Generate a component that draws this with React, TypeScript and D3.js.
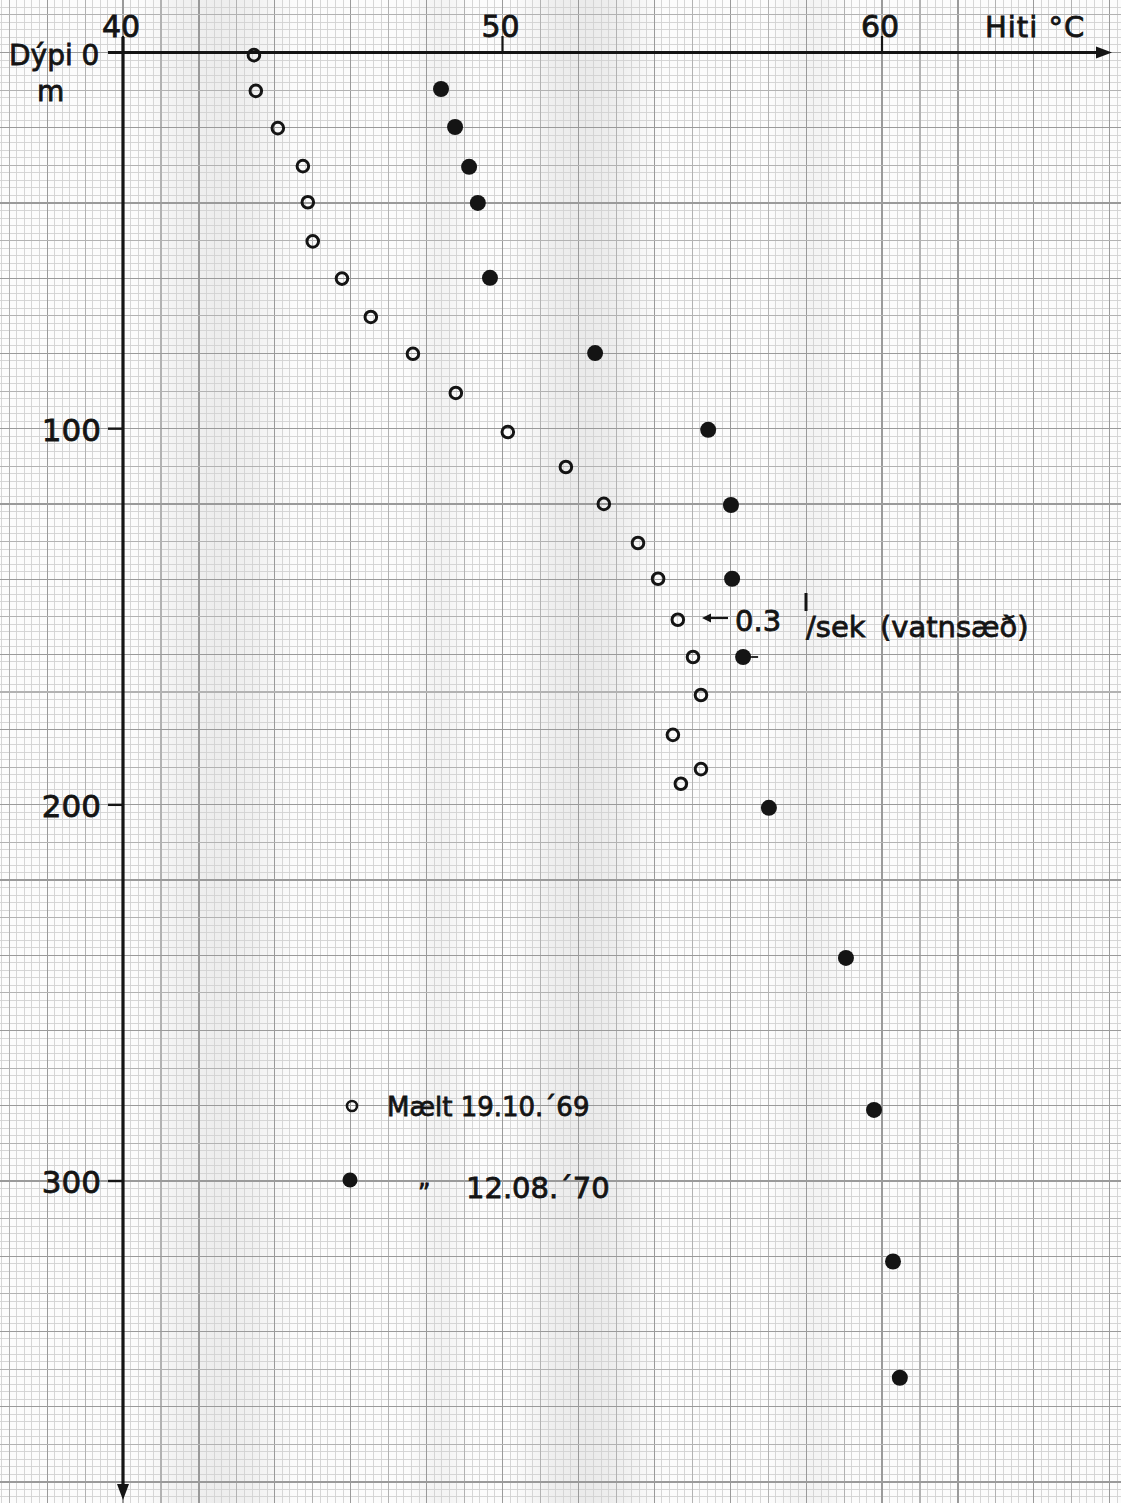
import React from "react";
import * as d3 from "d3";

// ---- data ----
const openTemp = [43.45, 43.5, 44.08, 44.74, 44.87, 45.0, 45.77, 46.53, 47.64, 48.77, 50.14, 51.67, 52.67, 53.57, 54.1, 54.62, 55.02, 55.23, 54.49, 55.23, 54.7];
const openDepth = [0.7, 10.2, 20.1, 30.2, 39.8, 50.2, 60.1, 70.3, 80.1, 90.5, 100.9, 110.2, 120.0, 130.4, 139.9, 150.8, 160.7, 170.8, 181.4, 190.5, 194.4];

const filledTemp = [48.38, 48.75, 49.12, 49.35, 49.67, 52.44, 55.42, 56.02, 56.05, 56.34, 57.02, 59.05, 59.79, 60.29, 60.47];
const filledDepth = [9.7, 19.8, 30.4, 40.0, 59.9, 79.9, 100.3, 120.3, 139.9, 160.7, 200.8, 240.7, 281.1, 321.4, 352.3];

const xTicks = [40, 50, 60];
const yTicks = [100, 200, 300];

const legendOpen = "Mælt 19.10.´69";
const legendFilledMark = "\u201D";
const legendFilled = "12.08.´70";

const W = 1121;
const H = 1503;

export default function App() {
  const x = d3.scaleLinear().domain([40, 60]).range([123, 882]);
  const y = d3.scaleLinear().domain([0, 300]).range([52.5, 1181]);

  const tMin = x.invert(0);
  const tMax = x.invert(W);
  const dMin = y.invert(0);
  const dMax = y.invert(H);

  const vLines = d3.range(Math.ceil(tMin * 5), Math.floor(tMax * 5) + 1);
  const hLines = d3.range(Math.ceil(dMin / 2), Math.floor(dMax / 2) + 1);

  const gridStyle = (i: number) =>
    i % 10 === 0
      ? { stroke: "#9a9a9a", strokeWidth: 1.2 }
      : i % 5 === 0
      ? { stroke: "#b2b2b2", strokeWidth: 1.1 }
      : { stroke: "#d2d2d2", strokeWidth: 0.9 };

  const font = "'DejaVu Sans', 'Noto Sans', sans-serif";
  const ink = "#141414";
  const txt = { fill: ink, stroke: ink, strokeWidth: 0.8 };

  const bands = [
    { t0: 40.4, t1: 44.6, a: 0.06 },
    { t0: 50.2, t1: 54.2, a: 0.07 },
    { t0: 47.5, t1: 49.2, a: 0.035 },
    { t0: 57.0, t1: 59.2, a: 0.035 },
  ];

  return (
    <svg
      width={W}
      height={H}
      viewBox={`0 0 ${W} ${H}`}
      style={{ position: "absolute", left: 0, top: 0, background: "#fcfcfc" }}
      fontFamily={font}
    >
      <defs>
        <linearGradient id="band" gradientUnits="objectBoundingBox" x1="0" x2="1" y1="0" y2="0">
          <stop offset="0" stopColor="#000" stopOpacity={0} />
          <stop offset="0.3" stopColor="#000" stopOpacity={0.8} />
          <stop offset="0.5" stopColor="#000" stopOpacity={1} />
          <stop offset="0.7" stopColor="#000" stopOpacity={0.8} />
          <stop offset="1" stopColor="#000" stopOpacity={0} />
        </linearGradient>
      </defs>
      <rect x={0} y={0} width={W} height={H} fill="#fcfcfc" />
      {bands.map((b, i) => (
        <rect
          key={"b" + i}
          x={x(b.t0)}
          y={0}
          width={x(b.t1) - x(b.t0)}
          height={H}
          fill="url(#band)"
          opacity={b.a}
        />
      ))}

      {/* graph paper grid */}
      <g shapeRendering="crispEdges">
        {vLines
          .filter((i) => i % 5 !== 0)
          .map((i) => (
            <line key={"vf" + i} x1={x(i / 5)} x2={x(i / 5)} y1={0} y2={H} {...gridStyle(i)} />
          ))}
        {hLines
          .filter((j) => j % 5 !== 0)
          .map((j) => (
            <line key={"hf" + j} x1={0} x2={W} y1={y(j * 2)} y2={y(j * 2)} {...gridStyle(j)} />
          ))}
        {vLines
          .filter((i) => i % 5 === 0)
          .map((i) => (
            <line key={"vm" + i} x1={x(i / 5)} x2={x(i / 5)} y1={0} y2={H} {...gridStyle(i)} />
          ))}
        {hLines
          .filter((j) => j % 5 === 0)
          .map((j) => (
            <line key={"hm" + j} x1={0} x2={W} y1={y(j * 2)} y2={y(j * 2)} {...gridStyle(j)} />
          ))}
      </g>

      {/* axes */}
      <line x1={108} x2={1098} y1={y(0)} y2={y(0)} stroke={ink} strokeWidth={3} />
      <path d={`M1112,${y(0)} L1096,${y(0) - 6} L1096,${y(0) + 6} Z`} fill={ink} />
      <line x1={x(40)} x2={x(40)} y1={37} y2={1485} stroke={ink} strokeWidth={3.2} />
      <path d={`M${x(40)},1500 L${x(40) - 6},1484 L${x(40) + 6},1484 Z`} fill={ink} />

      {/* x ticks */}
      {xTicks.map((t) => (
        <g key={"xt" + t}>
          <line x1={x(t)} x2={x(t)} y1={36} y2={y(0)} stroke={ink} strokeWidth={2.2} />
          <text x={x(t) - 2} y={37} fontSize={30} textAnchor="middle" {...txt}>
            {t}
          </text>
        </g>
      ))}
      <text x={985} y={37} fontSize={29} letterSpacing={1} {...txt}>
        Hiti °C
      </text>

      {/* y ticks */}
      {yTicks.map((d) => (
        <g key={"yt" + d}>
          <line x1={108} x2={x(40)} y1={y(d)} y2={y(d)} stroke={ink} strokeWidth={2.4} />
          <text x={101} y={y(d) + 12} fontSize={31} textAnchor="end" {...txt}>
            {d}
          </text>
        </g>
      ))}
      <text x={9} y={65} fontSize={28} {...txt}>
        Dýpi 0
      </text>
      <text x={37} y={101} fontSize={28} {...txt}>
        m
      </text>

      {/* open circles: 19.10.69 */}
      {openTemp.map((t, i) => (
        <circle
          key={"o" + i}
          cx={x(t)}
          cy={y(openDepth[i])}
          r={5.8}
          fill="none"
          stroke={ink}
          strokeWidth={3}
        />
      ))}

      {/* filled circles: 12.08.70 */}
      {filledTemp.map((t, i) => (
        <circle key={"f" + i} cx={x(t)} cy={y(filledDepth[i])} r={8} fill={ink} />
      ))}
      <line
        x1={x(filledTemp[9]) + 8}
        x2={x(filledTemp[9]) + 15}
        y1={y(filledDepth[9])}
        y2={y(filledDepth[9])}
        stroke={ink}
        strokeWidth={1.8}
      />

      {/* annotation */}
      <line x1={728} x2={708} y1={618} y2={618} stroke={ink} strokeWidth={2.2} />
      <path d="M702,618 L711,613.5 L711,622.5 Z" fill={ink} />
      <text x={735} y={631} fontSize={29} {...txt}>
        0.3
      </text>
      <line x1={806} x2={806} y1={593} y2={611} stroke={ink} strokeWidth={3} />
      <text x={806} y={637} fontSize={29} {...txt}>
        /sek
      </text>
      <text x={880} y={637} fontSize={29} {...txt}>
        (vatnsæð)
      </text>

      {/* legend */}
      <circle cx={352} cy={1106} r={5} fill="none" stroke={ink} strokeWidth={2.6} />
      <text x={387} y={1116} fontSize={26} {...txt}>
        {legendOpen}
      </text>
      <circle cx={350} cy={1180} r={7.5} fill={ink} />
      <text x={418} y={1201} fontSize={24} {...txt}>
        {legendFilledMark}
      </text>
      <text x={466} y={1198} fontSize={29} {...txt}>
        {legendFilled}
      </text>
    </svg>
  );
}
